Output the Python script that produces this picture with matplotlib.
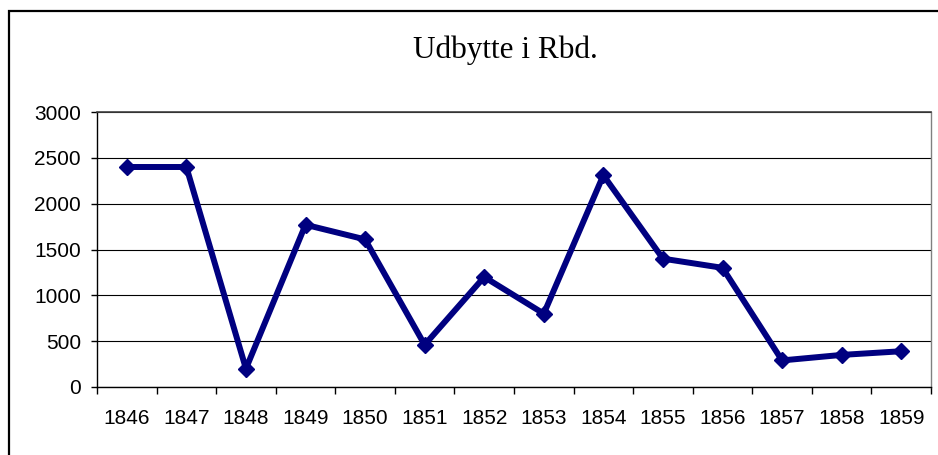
import numpy as np
import matplotlib
matplotlib.use('Agg')
from matplotlib import pyplot as plt
from matplotlib.patches import Rectangle

years = ['1846', '1847', '1848', '1849', '1850', '1851', '1852',
         '1853', '1854', '1855', '1856', '1857', '1858', '1859']
udbytte = [2400, 2400, 200, 1770, 1610, 460, 1200,
           800, 2310, 1400, 1300, 290, 350, 390]
yticks = [0, 500, 1000, 1500, 2000, 2500, 3000]

plt.rcParams['font.family'] = ['Liberation Sans', 'DejaVu Sans']

fig = plt.figure(figsize=(9.38, 4.55), dpi=100)
ax = fig.add_axes([97/938, 1 - 387/455, (931 - 97)/938, (387 - 112)/455])

x = np.arange(len(years))
ax.plot(x, udbytte, color='#000080', lw=4.3, marker='D', ms=8.5,
        solid_joinstyle='miter', zorder=3)

ax.set_xlim(-0.5, len(years) - 0.5)
ax.set_ylim(0, 3000)
ax.set_yticks(yticks)
ax.set_yticklabels([str(v) for v in yticks])
ax.set_xticks(x)
ax.set_xticklabels(years)
ax.set_xticks(np.arange(len(years) + 1) - 0.5, minor=True)

ax.tick_params(axis='y', length=4.5, width=1, pad=7, labelsize=15)
ax.tick_params(axis='x', which='major', length=0, pad=16, labelsize=15)
ax.tick_params(axis='x', which='minor', length=5, width=1)

ax.grid(axis='y', color='black', lw=0.8)
ax.set_axisbelow(True)
for s in ['left', 'bottom']:
    ax.spines[s].set_color('black')
    ax.spines[s].set_linewidth(1)
ax.spines['top'].set_color('#404040')
ax.spines['top'].set_linewidth(1.2)
ax.spines['right'].set_color('#808080')
ax.spines['right'].set_linewidth(1)

fig.text(505/938, 1 - 50/455, 'Udbytte i Rbd.', ha='center', va='center',
         fontsize=22.5, family=['Liberation Serif', 'DejaVu Serif'])

# outer chart frame, cut off at the right and bottom
fig.patches.append(Rectangle((9/938, -0.1), 1.2, 1.1 - 11/455,
                             transform=fig.transFigure, fill=False,
                             ec='black', lw=1.6, clip_on=False))

plt.savefig('out.png', dpi=100)
